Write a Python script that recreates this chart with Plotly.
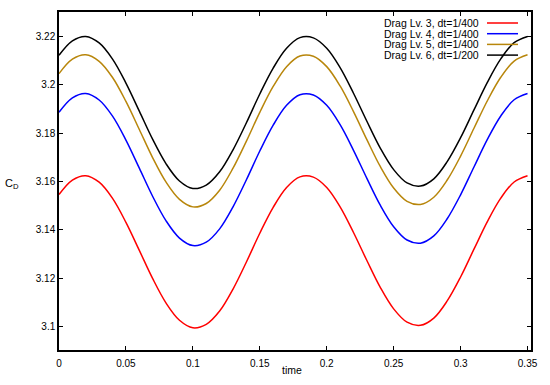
import plotly.graph_objects as go

time = [round(i * 0.01, 2) for i in range(36)]

lv6 = [3.2122, 3.2182, 3.2200, 3.2173, 3.2106, 3.2007, 3.1891, 3.1774, 3.1673, 3.1602,
       3.1571, 3.1585, 3.1640, 3.1731, 3.1843, 3.1962, 3.2069, 3.2151, 3.2195, 3.2194,
       3.2151, 3.2071, 3.1965, 3.1849, 3.1738, 3.1649, 3.1594, 3.1581, 3.1611, 3.1682,
       3.1781, 3.1896, 3.2010, 3.2107, 3.2174, 3.2200]
lv5 = [3.2046, 3.2106, 3.2124, 3.2097, 3.2030, 3.1931, 3.1815, 3.1698, 3.1597, 3.1526,
       3.1495, 3.1509, 3.1564, 3.1655, 3.1767, 3.1886, 3.1993, 3.2075, 3.2119, 3.2118,
       3.2075, 3.1995, 3.1889, 3.1773, 3.1662, 3.1573, 3.1518, 3.1505, 3.1535, 3.1606,
       3.1705, 3.1820, 3.1934, 3.2031, 3.2098, 3.2124]
lv4 = [3.1886, 3.1946, 3.1964, 3.1937, 3.1870, 3.1771, 3.1655, 3.1538, 3.1437, 3.1366,
       3.1335, 3.1349, 3.1404, 3.1495, 3.1607, 3.1726, 3.1833, 3.1915, 3.1959, 3.1958,
       3.1915, 3.1835, 3.1729, 3.1613, 3.1502, 3.1413, 3.1358, 3.1345, 3.1375, 3.1446,
       3.1545, 3.1660, 3.1774, 3.1871, 3.1938, 3.1964]
lv3 = [3.1546, 3.1606, 3.1624, 3.1597, 3.1530, 3.1431, 3.1315, 3.1198, 3.1097, 3.1026,
       3.0995, 3.1009, 3.1064, 3.1155, 3.1267, 3.1386, 3.1493, 3.1575, 3.1619, 3.1618,
       3.1575, 3.1495, 3.1389, 3.1273, 3.1162, 3.1073, 3.1018, 3.1005, 3.1035, 3.1106,
       3.1205, 3.1320, 3.1434, 3.1531, 3.1598, 3.1624]

names = ["Drag Lv. 3, dt=1/400", "Drag Lv. 4, dt=1/400",
         "Drag Lv. 5, dt=1/400", "Drag Lv. 6, dt=1/200"]
series = [lv3, lv4, lv5, lv6]
colors = ["#ff0000", "#0000ff", "#b8860b", "#000000"]

x_ticks = [0, 0.05, 0.1, 0.15, 0.2, 0.25, 0.3, 0.35]
x_tick_text = ["0", "0.05", "0.1", "0.15", "0.2", "0.25", "0.3", "0.35"]
y_ticks = [3.1, 3.12, 3.14, 3.16, 3.18, 3.2, 3.22]
y_tick_text = ["3.1", "3.12", "3.14", "3.16", "3.18", "3.2", "3.22"]

FAM = "Liberation Sans, Arial, sans-serif"

fig = go.Figure()
for name, ys, col in zip(names, series, colors):
    fig.add_trace(go.Scatter(x=time, y=ys, mode="lines", name=name,
                             line=dict(color=col, width=1.5, shape="spline", smoothing=1.0),
                             showlegend=False))

L, R, T, B = 59, 19, 12, 35
W, H = 550, 385
pw, ph = W - L - R, H - T - B
def px(xp):
    return (xp - L) / pw
def py(yp):
    return 1 - (yp - T) / ph

# legend (gnuplot style: text then line sample on the right)
row_y = [23, 33.7, 44.4, 55.1]
for name, col, yy in zip(names, colors, row_y):
    fig.add_annotation(x=px(481), y=py(yy), xref="paper", yref="paper", text=name,
                       showarrow=False, xanchor="right", yanchor="middle",
                       font=dict(family=FAM, size=10.5, color="#000"))
    fig.add_shape(type="line", xref="paper", yref="paper", x0=px(487), x1=px(518),
                  y0=py(yy), y1=py(yy), line=dict(color=col, width=1.5))

fig.add_annotation(x=px(12), y=py(184), xref="paper", yref="paper", text="C<sub>D</sub>",
                   showarrow=False, xanchor="center", yanchor="middle",
                   font=dict(family=FAM, size=11, color="#000"))
fig.add_annotation(x=px(292), y=py(370), xref="paper", yref="paper", text="time",
                   showarrow=False, xanchor="center", yanchor="middle",
                   font=dict(family=FAM, size=10.5, color="#000"))

fig.update_layout(
    width=W, height=H,
    margin=dict(l=L, r=R, t=T, b=B, pad=0, autoexpand=False),
    paper_bgcolor="white", plot_bgcolor="white",
    font=dict(family=FAM, size=10, color="#000"),
    xaxis=dict(range=[0, 0.3526], tickvals=x_ticks, ticktext=x_tick_text,
               showgrid=False, zeroline=False, showline=True, linecolor="#000", linewidth=1.5,
               mirror="ticks", ticks="inside", ticklen=4, tickcolor="#000", tickwidth=1,
               ticklabelstandoff=3, automargin=False),
    yaxis=dict(range=[3.0903, 3.2301], tickvals=y_ticks, ticktext=y_tick_text,
               showgrid=False, zeroline=False, showline=True, linecolor="#000", linewidth=1.5,
               mirror="ticks", ticks="inside", ticklen=4, tickcolor="#000", tickwidth=1,
               automargin=False),
)

fig.write_html("out.html", config={"displayModeBar": False},
               post_script="document.body.style.margin='0px';document.body.style.overflow='hidden';")
